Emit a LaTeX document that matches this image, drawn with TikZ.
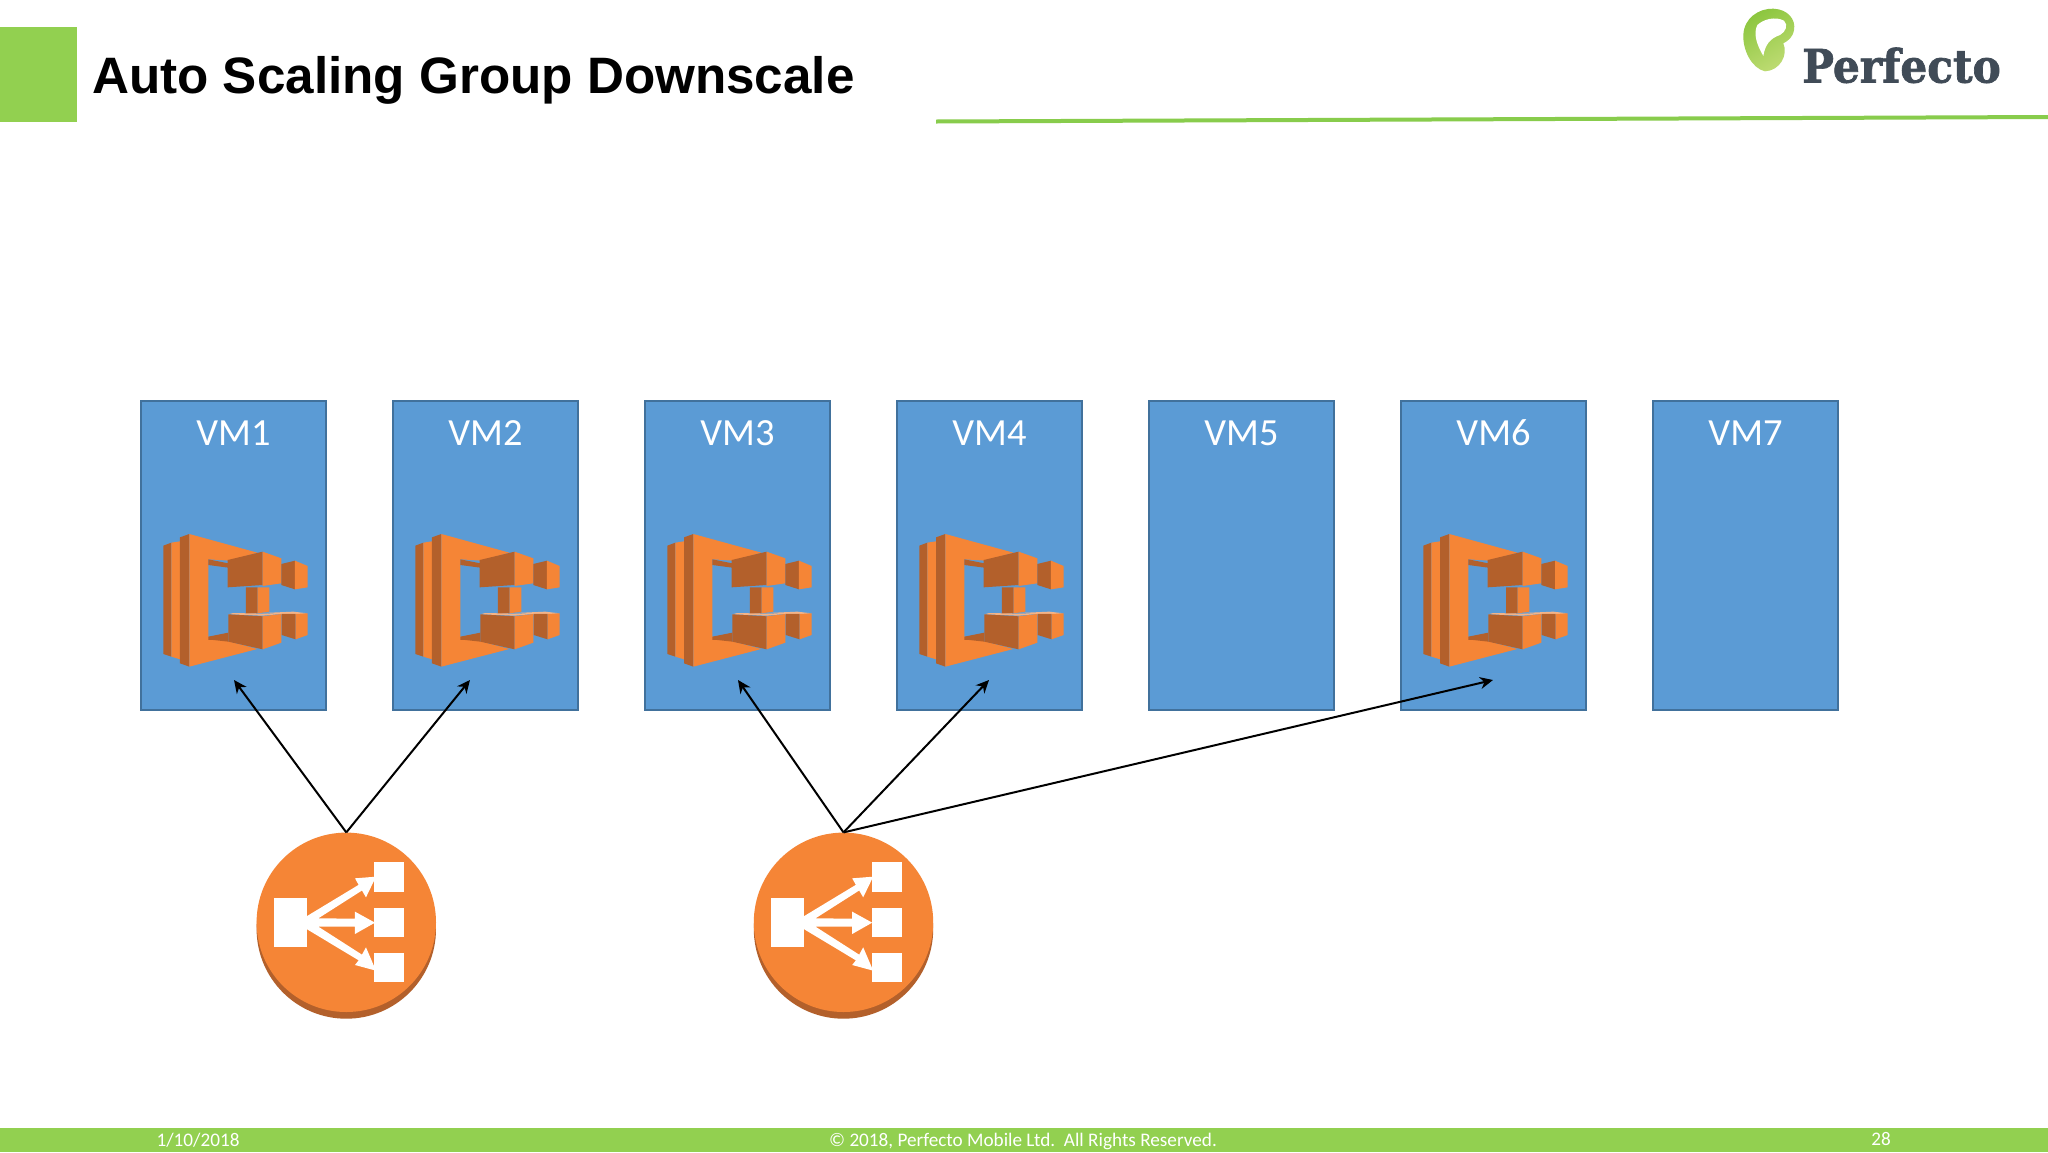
\documentclass[tikz,border=0pt]{standalone}
\usepackage{fontspec}
\setmainfont{Carlito}
\newfontfamily\titlefont{Liberation Sans}
\newfontfamily\logofont[FakeBold=1.6]{DejaVu Serif}
\usetikzlibrary{arrows.meta,shapes.geometric}
\definecolor{slidegreen}{HTML}{92D050}
\definecolor{rulegreen}{HTML}{88CC4C}
\definecolor{boxblue}{HTML}{5B9BD5}
\definecolor{boxedge}{HTML}{41719C}
\definecolor{awsorange}{HTML}{F58536}
\definecolor{awsdark}{HTML}{B3602B}
\definecolor{awslight}{HTML}{F4B488}
\definecolor{logoink}{HTML}{404B57}
\definecolor{leafgreen}{HTML}{8CC63F}
\definecolor{leafpale}{HTML}{BFDC74}
\tikzset{
  vmbox/.style={draw=boxedge,line width=2pt,fill=boxblue,minimum width=185pt,minimum height=309pt,inner sep=0pt,outer sep=0pt,anchor=north west},
  vmlabel/.style={text=white,font=\fontsize{38.4pt}{40pt}\selectfont,anchor=base,inner sep=0pt},
  footer/.style={text=white,font=\fontsize{19.2pt}{20pt}\selectfont,anchor=base,inner sep=0pt},
  lbdisc/.style={circle,fill=awsorange,minimum size=179.4pt,inner sep=0pt},
  link/.style={draw=black,line width=2pt,-{Stealth[length=13pt,width=12pt]}},
  od/.style={fill=awsdark},
  oo/.style={fill=awsorange},
  ow/.style={fill=white}
}
\newcommand{\ecsicon}[1]{%
\begin{scope}[shift={(#1,500)},x=0.3333pt,y=-0.3333pt]
  \path[od] (100,137)--(124,128)--(124,470)--(100,462)--cycle;
  \path[oo] (124,128)--(150,124)--(150,478)--(124,470)--cycle;
  \path[od] (150,112)--(178,102)--(178,500)--(150,490)--cycle;
  \path[oo] (178,102)--(382,158)--(298,182)--(235,178)--(235,410)--(300,425)--(382,447)--(178,500)--cycle;
  \path[od] (235,178)--(295,190)--(295,203)--(235,195)--cycle;
  \path[od] (235,410)--(295,398)--(295,425)--(250,420)--(235,420)--cycle;
  \path[od] (293,180)--(398,155)--(398,255)--(293,262)--cycle;
  \path[oo] (398,155)--(454,175)--(454,250)--(398,258)--cycle;
  \path[od] (454,192)--(495,182)--(495,268)--(454,255)--cycle;
  \path[oo] (495,182)--(533,198)--(533,262)--(495,268)--cycle;
  \path[od] (348,262)--(383,262)--(383,340)--(348,342)--cycle;
  \path[oo] (383,262)--(418,262)--(418,335)--(383,340)--cycle;
  \path[fill=awslight] (400,339)--(490,335)--(533,340)--(497,343)--(455,343)--cycle;
  \path[od] (455,342)--(497,342)--(497,418)--(455,405)--cycle;
  \path[oo] (497,342)--(533,340)--(533,405)--(497,418)--cycle;
  \path[fill=awslight] (295,343)--(310,339)--(400,341)--(452,342)--(398,347)--cycle;
  \path[od] (295,343)--(398,349)--(398,448)--(295,425)--cycle;
  \path[oo] (398,349)--(454,342)--(454,428)--(398,448)--cycle;
\end{scope}}
\newcommand{\lbglyph}[1]{%
\begin{scope}[shift={(#1,810)},x=0.3333pt,y=-0.3333pt]
  \path[ow] (102,265) rectangle (200,410);
  \path[ow] (403,155) rectangle (493,245);
  \path[ow] (403,295) rectangle (493,382);
  \path[ow] (403,430) rectangle (493,517);
  \path[ow] (198,320)--(356,224.5)--(345,205)--(408,200)--(378,262)--(366,241.5)--(235,325)--(345,326)--(345,305)--(405,338)--(345,372)--(345,350)--(235,350)--(366,434)--(378,412)--(408,482)--(345,465)--(356,451)--(198,356)--cycle;
\end{scope}}
\begin{document}
\begin{tikzpicture}[x=1pt,y=-1pt]
\useasboundingbox (0,0) rectangle (2048,1152);
\fill[white] (0,0) rectangle (2048,1152);
% header
\fill[slidegreen] (0,27) rectangle (77,122);
\node[anchor=base west,inner sep=0pt,font=\titlefont\bfseries\fontsize{51.2pt}{52pt}\selectfont] (title) at (92,93) {Auto Scaling Group Downscale};
\fill[rulegreen] (936,119.5)--(2048,115)--(2048,119)--(936,123.5)--cycle;
% logo
\begin{scope}[shift={(1720,0)},x=0.3333pt,y=-0.3333pt]
  \path[left color=leafgreen,right color=leafpale,shading angle=30]
    (135,214) .. controls (95,205) and (68,150) .. (70,105)
    .. controls (72,55) and (115,25) .. (160,26)
    .. controls (205,28) and (228,60) .. (222,90)
    .. controls (218,112) and (205,122) .. (190,130)
    .. controls (205,165) and (180,212) .. (135,214) -- cycle;
  \path[fill=white] (130,168) .. controls (108,130) and (100,100) .. (112,75)
    .. controls (130,58) and (165,48) .. (192,62)
    .. controls (205,75) and (198,95) .. (180,105)
    .. controls (150,115) and (135,135) .. (130,168) -- cycle;
\end{scope}
\node[anchor=base west,inner sep=0pt,text=logoink,font=\logofont\bfseries\fontsize{46pt}{47pt}\selectfont,xscale=0.92] (logo) at (1802,82.5) {Perfecto};
% VM boxes
\foreach \i/\l in {1/141,2/393,3/645,4/897,5/1149,6/1401,7/1653}{
  \node[vmbox] (vm\i) at (\l,401) {};
  \node[vmlabel] (vmt\i) at (\l+92.5,445) {VM\i};
}
% container icons
\ecsicon{130}\ecsicon{382}\ecsicon{634}\ecsicon{886}\ecsicon{1390}
% load balancers
\fill[awsdark] (346.3,929) circle (89.7);
\fill[awsdark] (843.5,929) circle (89.7);
\node[lbdisc] (lb1) at (346.3,922.3) {};
\node[lbdisc] (lb2) at (843.5,922.3) {};
\lbglyph{240}\lbglyph{737.2}
% arrow targets
\coordinate (t1) at (234,680);
\coordinate (t2) at (470,680);
\coordinate (t3) at (738,680);
\coordinate (t4) at (989,680);
\coordinate (t6) at (1493,680);
\draw[link] (lb1.north) -- (t1);
\draw[link] (lb1.north) -- (t2);
\draw[link] (lb2.north) -- (t3);
\draw[link] (lb2.north) -- (t4);
\draw[link] (lb2.north) -- (t6);
% footer
\fill[slidegreen] (0,1128) rectangle (2048,1152);
\node[footer] (fdate) at (198,1146) {1/10/2018};
\node[footer] (fcopy) at (1023,1146) {© 2018, Perfecto Mobile Ltd.\ \ All Rights Reserved.};
\node[footer] (fnum) at (1881,1145) {28};
\end{tikzpicture}
\end{document}
